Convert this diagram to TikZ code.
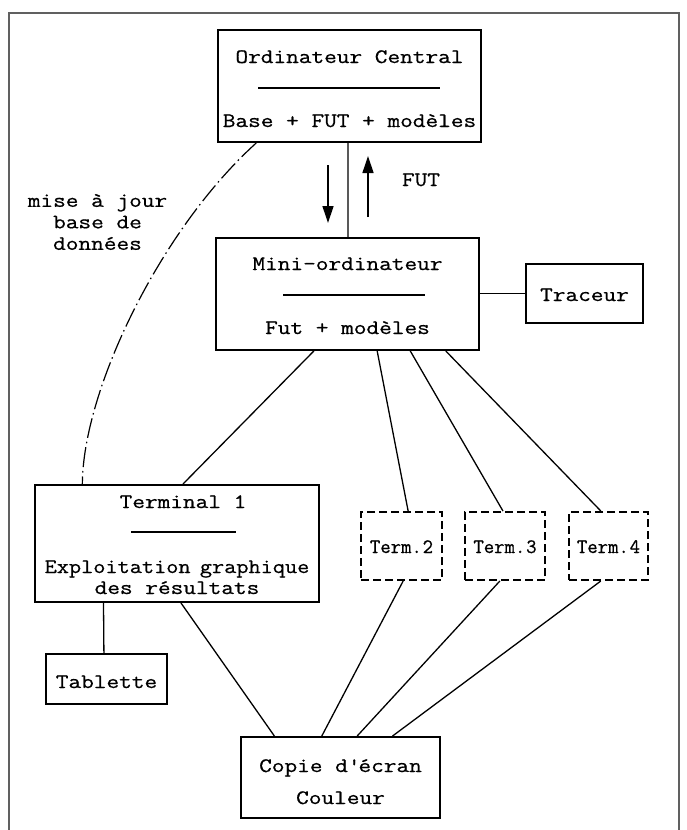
\documentclass[tikz,border=0pt]{standalone}
\usepackage{fontspec}
\setmainfont{Latin Modern Mono}[FakeStretch=1.2, FakeBold=0.7, Ligatures=ResetAll]
\usetikzlibrary{arrows.meta,calc}
\tikzset{
  box/.style={draw=black, line width=2pt, rectangle, inner sep=0pt},
  dbox/.style={draw=black, line width=2pt, rectangle, inner sep=0pt, dash pattern=on 8pt off 4pt},
  lbl/.style={inner sep=0pt, font=\fontsize{20.5}{21.5}\selectfont, anchor=base},
  conn/.style={draw=black, line width=1.3pt},
  rul/.style={draw=black, line width=1.3pt},
  arr/.style={draw=black, line width=1.3pt, -{Triangle[length=17pt,width=11pt]}},
}
\begin{document}
\begin{tikzpicture}[x=1pt,y=-1pt]
\useasboundingbox (0,0) rectangle (686,830);
% frame
\draw[gray!75!black, line width=1.8pt] (9,835) -- (9,13) -- (679,13) -- (679,835);
% boxes
\node[box, minimum width=263pt, minimum height=112pt] (central) at (349.5,86) {};
\node[box, minimum width=263pt, minimum height=112pt] (mini) at (347.5,294) {};
\node[box, minimum width=117pt, minimum height=59pt] (tracer) at (584.5,293.5) {};
\node[box, minimum width=284pt, minimum height=117pt] (term1) at (177,543.5) {};
\node[dbox, minimum width=81pt, minimum height=68pt] (term2) at (401.5,546) {};
\node[dbox, minimum width=80pt, minimum height=68pt] (term3) at (505,546) {};
\node[dbox, minimum width=79pt, minimum height=68pt] (term4) at (608.5,546) {};
\node[box, minimum width=121pt, minimum height=50pt] (tablette) at (106.5,679) {};
\node[box, minimum width=199pt, minimum height=81pt] (copie) at (340.5,777.5) {};
% texts
\node[lbl] (t1) at (349.5,63) {Ordinateur Central};
\node[lbl] (t2) at (349.5,127) {Base + FUT + modèles};
\node[lbl] (t3) at (347.5,270) {Mini-ordinateur};
\node[lbl] (t4) at (347.5,334) {Fut + modèles};
\node[lbl] (t5) at (584.5,301) {Traceur};
\node[lbl] (t6) at (183,508) {Terminal 1};
\node[lbl] (t7) at (177,573) {\scalebox{0.96}[1]{Exploitation\kern-3pt\ graphique}};
\node[lbl] (t8) at (177,594) {des résultats};
\node[lbl] (t9) at (401.5,553) {\scalebox{0.82}[1]{Term.\kern1pt 2}};
\node[lbl] (t10) at (505,553) {\scalebox{0.82}[1]{Term.\kern1pt 3}};
\node[lbl] (t11) at (608.5,553) {\scalebox{0.82}[1]{Term.\kern1pt 4}};
\node[lbl] (t12) at (106.5,688) {Tablette};
\node[lbl] (t13) at (340.5,772) {Copie d\textquotesingle écran};
\node[lbl] (t14) at (340.5,804) {Couleur};
\node[lbl] (fut) at (421,186) {FUT};
\node[lbl, align=center, anchor=center] (maj) at (97.5,222) {mise à jour\\base de\\données};
% rules inside boxes
\draw[rul] (258,88) -- (440,88);
\draw[rul] (283,295) -- (425,295);
\draw[rul] (131,532) -- (236,532);
% arrows
\coordinate (a1s) at (328,165); \coordinate (a1e) at (328,223);
\coordinate (a2s) at (368,217); \coordinate (a2e) at (368,156);
\draw[arr] (a1s) -- (a1e);
\draw[arr] (a2s) -- (a2e);
% connectors
\draw[conn] ($(central.south west)!0.494!(central.south east)$) -- ($(mini.north west)!0.502!(mini.north east)$);
\draw[conn] (tracer.west -| mini.east) -- (tracer.west);
\draw[conn] ($(mini.south west)!0.373!(mini.south east)$) -- ($(term1.north west)!0.521!(term1.north east)$);
\draw[conn] ($(mini.south west)!0.612!(mini.south east)$) -- ($(term2.north west)!0.58!(term2.north east)$);
\draw[conn] ($(mini.south west)!0.737!(mini.south east)$) -- ($(term3.north west)!0.475!(term3.north east)$);
\draw[conn] ($(mini.south west)!0.871!(mini.south east)$) -- ($(term4.north west)!0.405!(term4.north east)$);
\draw[conn] ($(term1.south west)!0.243!(term1.south east)$) -- ($(tablette.north west)!0.479!(tablette.north east)$);
\draw[conn] ($(term1.south west)!0.514!(term1.south east)$) -- ($(copie.north west)!0.171!(copie.north east)$);
\draw[conn] ($(term2.south west)!0.52!(term2.south east)$) -- ($(copie.north west)!0.407!(copie.north east)$);
\draw[conn] ($(term3.south west)!0.4375!(term3.south east)$) -- ($(copie.north west)!0.583!(copie.north east)$);
\draw[conn] ($(term4.south west)!0.405!(term4.south east)$) -- ($(copie.north west)!0.759!(copie.north east)$);
% dash-dot curve
\draw[conn, line width=1.2pt, dash pattern=on 20pt off 4pt on 1.5pt off 4pt]
  ($(central.south west)!0.148!(central.south east)$) .. controls (160,230) and (83,390) .. ($(term1.north west)!0.169!(term1.north east)$);
\end{tikzpicture}
\end{document}
